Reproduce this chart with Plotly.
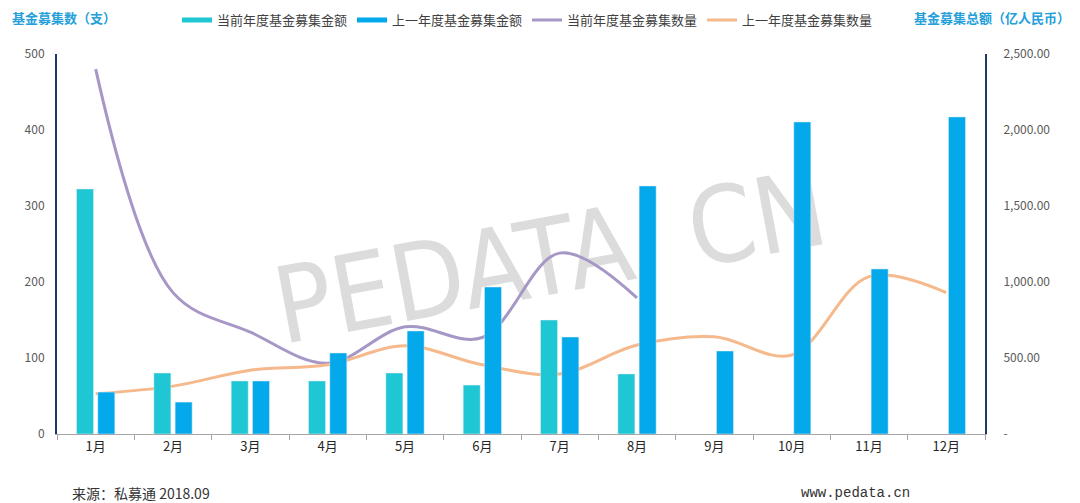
import plotly.graph_objects as go

months = ["1月", "2月", "3月", "4月", "5月", "6月", "7月", "8月", "9月", "10月", "11月", "12月"]
amount_current = [1612, 401, 349, 349, 401, 322, 750, 395, None, None, None, None]
amount_previous = [276, 210, 349, 533, 678, 967, 638, 1632, 546, 2053, 1086, 2086]
count_current = [480, 186, 134, 93, 141, 127, 238, 179, None, None, None, None]
count_previous = [53, 63, 84, 91, 116, 91, 79, 117, 128, 104, 207, 186]

right_ticks = [0, 500, 1000, 1500, 2000, 2500]
right_ticktext = ["-", "500.00", "1,000.00", "1,500.00", "2,000.00", "2,500.00"]

teal = "#1FC6D3"
blue = "#03A9EB"
purple = "#A697C6"
orange = "#F5B98C"
navy = "#1F3864"
title_blue = "#25A0DA"
cjk = "Noto Sans CJK SC"

fig = go.Figure()

fig.add_trace(go.Bar(x=months, y=amount_current, yaxis="y2", marker_color=teal,
                     name="当前年度基金募集金额", showlegend=False))
fig.add_trace(go.Bar(x=months, y=amount_previous, yaxis="y2", marker_color=blue,
                     name="上一年度基金募集金额", showlegend=False))
fig.add_trace(go.Scatter(x=months, y=count_current, mode="lines",
                         line=dict(color=purple, width=3, shape="spline", smoothing=1),
                         name="当前年度基金募集数量", showlegend=False))
fig.add_trace(go.Scatter(x=months, y=count_previous, mode="lines",
                         line=dict(color=orange, width=3, shape="spline", smoothing=1),
                         name="上一年度基金募集数量", showlegend=False))

# legend entries (line swatches as in the reference)
for nm, col in [("当前年度基金募集金额", teal), ("上一年度基金募集金额", blue),
                ("当前年度基金募集数量", purple), ("上一年度基金募集数量", orange)]:
    fig.add_trace(go.Scatter(x=[None], y=[None], mode="lines", name=nm,
                             line=dict(color=col, width=5 if col in (teal, blue) else 3)))

fig.update_layout(
    width=1080, height=503,
    margin=dict(l=57, r=95, t=54, b=69, autoexpand=False),
    paper_bgcolor="white", plot_bgcolor="white",
    barmode="group", bargap=0.45, bargroupgap=0.2,
    font=dict(family=cjk, size=12, color="#595959"),
    showlegend=True,
    legend=dict(orientation="h", x=0.507, xanchor="center", yref="container",
                y=0.99, yanchor="top",
                font=dict(family=cjk, size=13, color="#404040"),
                itemwidth=30, tracegroupgap=0, bgcolor="rgba(0,0,0,0)"),
    xaxis=dict(type="category", showgrid=False, showline=True, linecolor="#A6A6A6",
               linewidth=1, ticks="outside", ticklen=5, tickcolor="#A6A6A6",
               tickson="boundaries", tickfont=dict(family=cjk, size=13, color="#262626")),
    yaxis=dict(range=[0, 500], dtick=100, showgrid=False, showline=True,
               linecolor=navy, linewidth=2, ticks="", zeroline=False,
               tickfont=dict(size=12, color="#595959"), ticklabelstandoff=8),
    yaxis2=dict(range=[0, 2500], overlaying="y", side="right", showgrid=False,
                showline=True, linecolor=navy, linewidth=2, zeroline=False,
                tickvals=right_ticks, ticktext=right_ticktext, ticks="",
                tickfont=dict(size=12, color="#595959"), ticklabelstandoff=14),
)

# watermark, drawn beneath the data
fig.add_shape(type="rect", xref="paper", yref="paper", x0=0.28, x1=0.78, y0=0.38, y1=0.59,
              line=dict(width=0), fillcolor="rgba(0,0,0,0)", layer="below",
              label=dict(text="PEDATA. CN", textangle=-10.5, textposition="middle center",
                         font=dict(family="Liberation Sans Narrow, DejaVu Sans Condensed, Liberation Sans",
                                   size=106, color="#DCDCDC")))

fig.add_annotation(text="<b>基金募集数（支）</b>", xref="paper", yref="paper",
                   x=-0.051, y=1.095, xanchor="left", yanchor="middle", showarrow=False,
                   font=dict(family=cjk, size=13, color=title_blue))
fig.add_annotation(text="<b>基金募集总额（亿人民币）</b>", xref="paper", yref="paper",
                   x=1.094, y=1.095, xanchor="right", yanchor="middle", showarrow=False,
                   font=dict(family=cjk, size=13, color=title_blue))
fig.add_annotation(text="来源：私募通 2018.09", xref="paper", yref="paper",
                   x=0.014, y=-0.155, xanchor="left", yanchor="middle", showarrow=False,
                   font=dict(family=cjk, size=14, color="#333333"))
fig.add_annotation(text="www.pedata.cn", xref="paper", yref="paper",
                   x=0.80, y=-0.155, xanchor="left", yanchor="middle", showarrow=False,
                   font=dict(family="Liberation Mono", size=14, color="#333333"))

fig.write_html("out.html", config={"displayModeBar": False},
               post_script="document.body.style.margin='0';")
